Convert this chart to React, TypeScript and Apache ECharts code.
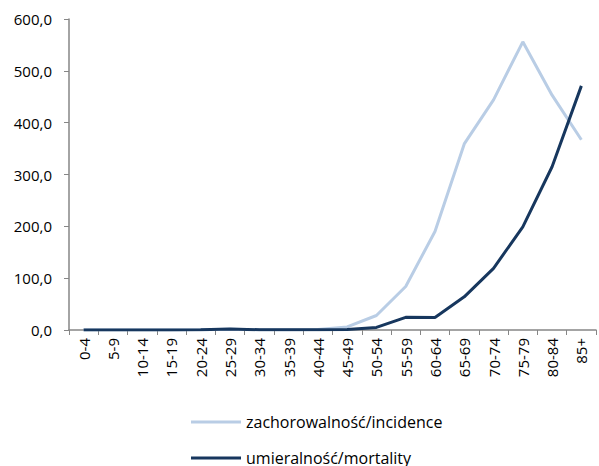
import React, { useEffect, useRef } from "react";
import * as echarts from "echarts";

const categories = ["0-4","5-9","10-14","15-19","20-24","25-29","30-34","35-39","40-44","45-49","50-54","55-59","60-64","65-69","70-74","75-79","80-84","85+"];
const incidence = [0, 0, 0, 0, 0.5, 1.5, 0.5, 0.5, 1, 6, 28, 84, 190, 359, 444, 556, 453, 367];
const mortality = [0, 0, 0, 0, 0.3, 2, 0.5, 0.5, 0.5, 1, 5, 24.5, 24, 64, 119, 199, 315, 471];
const yTicks = [0, 100, 200, 300, 400, 500, 600];
const seriesNames = ["zachorowalność/incidence", "umieralność/mortality"];

export default function App() {
  const ref = useRef<HTMLDivElement>(null);
  useEffect(() => {
    const chart = echarts.init(ref.current!, null, { renderer: "svg" });
    const font = "'Open Sans', 'Liberation Sans', sans-serif";
    const legendBase = {
      left: 186,
      icon: "rect",
      itemWidth: 50,
      itemHeight: 3,
      itemGap: 6,
      textStyle: { fontSize: 16, color: "#000", fontFamily: font },
    };
    chart.setOption({
      animation: false,
      textStyle: { fontFamily: font },
      grid: { left: 69, right: 3, top: 19, bottom: 136 },
      legend: [
        { ...legendBase, top: 409, data: [seriesNames[0]] },
        { ...legendBase, top: 445, data: [seriesNames[1]] },
      ],
      xAxis: {
        type: "category",
        data: categories,
        boundaryGap: true,
        axisLine: { lineStyle: { color: "#868686", width: 1.5 } },
        axisTick: { show: true, length: 5, lineStyle: { color: "#868686" } },
        axisLabel: { rotate: 90, fontSize: 15, color: "#000", margin: 8, interval: 0 },
      },
      yAxis: {
        type: "value",
        min: yTicks[0],
        max: yTicks[yTicks.length - 1],
        interval: 100,
        splitLine: { show: false },
        axisLine: { show: true, lineStyle: { color: "#868686", width: 1.5 } },
        axisTick: { show: true, length: 5, lineStyle: { color: "#868686" } },
        axisLabel: {
          fontSize: 15,
          color: "#000",
          margin: 17,
          formatter: (v: number) => v.toFixed(1).replace(".", ","),
        },
      },
      series: [
        {
          name: seriesNames[0],
          type: "line",
          data: incidence,
          symbol: "none",
          lineStyle: { color: "#B9CDE5", width: 3 },
          itemStyle: { color: "#B9CDE5" },
        },
        {
          name: seriesNames[1],
          type: "line",
          data: mortality,
          symbol: "none",
          lineStyle: { color: "#17375E", width: 3 },
          itemStyle: { color: "#17375E" },
        },
      ],
    });
    return () => chart.dispose();
  }, []);
  return <div ref={ref} style={{ width: 599, height: 466, position: "absolute", left: 0, top: 0 }} />;
}
